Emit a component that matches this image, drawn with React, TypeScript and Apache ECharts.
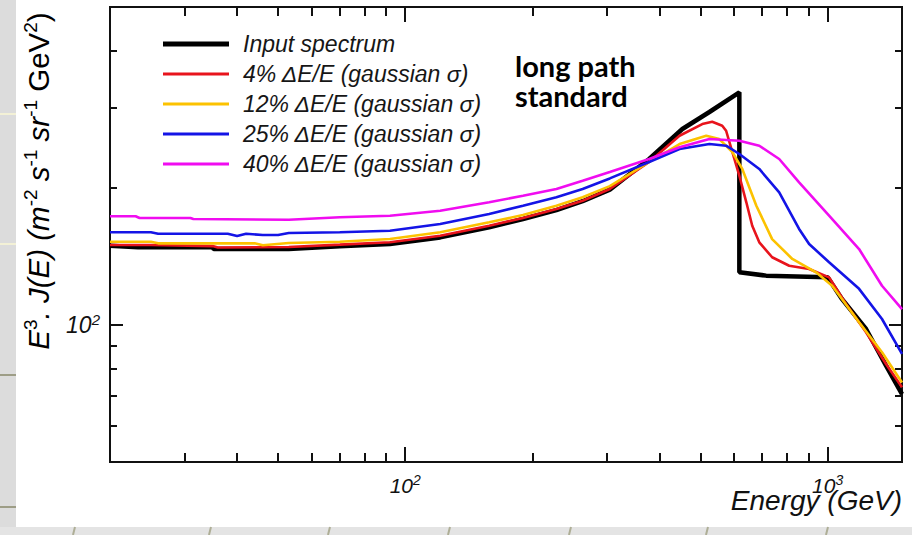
import { useEffect, useRef } from 'react';
import * as echarts from 'echarts';

const FONT = '"Liberation Sans", Arial, Helvetica, sans-serif';

// Axis ticks (GeV and E^3 J(E) units)
const energyMajorTicks = [100, 1000];
const energyMinorTicks = [30, 40, 50, 60, 70, 80, 90, 200, 300, 400, 500, 600, 700, 800, 900];
const fluxMajorTicks = [100];
const fluxMinorTicks = [60, 70, 80, 90, 200, 300, 400];
const energyRange = [20, 1500];
const fluxRange = [50, 500];

const seriesNames = [
  'Input spectrum',
  '4% ΔE/E (gaussian σ)',
  '12% ΔE/E (gaussian σ)',
  '25% ΔE/E (gaussian σ)',
  '40% ΔE/E (gaussian σ)',
];
const seriesColors = ['#000000', '#e8141c', '#fcc200', '#1414e6', '#f00cf0'];
const annotationLines = ['long path', 'standard'];

// [energy GeV, E^3 J(E)]
const inputSpectrum: [number, number][] = [
  [20, 149.4], [23.3, 148.2], [35, 148.2], [35.2, 146.9], [53, 146.9], [70, 148.9],
  [92, 150.7], [121, 155.8], [158, 163.9], [190, 171], [228, 178.9], [263, 187.1],
  [305, 198.4], [378, 231.7], [453, 269.7], [525, 293.9], [618, 324.7], [618, 130.6],
  [715, 128.4], [1000, 127.3], [1082, 114], [1233, 98], [1375, 81.4], [1500, 70.5],
];
const smeared4: [number, number][] = [
  [20, 149.9], [25, 149.9], [35, 149.1], [36, 148], [53, 148.4], [70, 150.2], [92, 152],
  [121, 157.1], [158, 165.3], [190, 171.9], [228, 179.9], [263, 187.6], [305, 199.1],
  [378, 228.2], [446, 260.6], [505, 276.5], [533, 279.8], [563, 274.2], [575, 267.3],
  [595, 240], [618, 212.9], [642, 186.1], [663, 165.3], [689, 152], [739, 140.9],
  [811, 135], [904, 132.8], [1008, 127.3], [1106, 111.2], [1233, 96.4], [1375, 82.1],
  [1500, 73],
];
const smeared12: [number, number][] = [
  [20, 152.4], [25, 152.4], [26, 151.2], [44, 151.2], [46, 149.7], [53, 151.4], [70, 152.4],
  [92, 154.5], [121, 159.9], [158, 168.2], [190, 174.5], [228, 182.9], [263, 190.9],
  [305, 202], [378, 228.2], [446, 249.9], [516, 260.6], [554, 256.3], [595, 240],
  [628, 220.3], [678, 182.9], [739, 154.5], [825, 139.7], [939, 130.6], [1025, 122],
  [1187, 101.4], [1345, 87.1], [1500, 74.8],
];
const smeared25: [number, number][] = [
  [20, 159.9], [25, 159.9], [26, 158.7], [38, 158.7], [40, 156.9], [42, 158.7], [46, 157.7],
  [50, 157.7], [53, 159.3], [70, 159.9], [92, 161.2], [121, 166.7], [158, 175.4],
  [190, 182.9], [228, 190.9], [263, 199.1], [305, 210], [378, 228.2], [446, 243.7],
  [525, 249.9], [575, 247.8], [618, 237.6], [689, 220.3], [768, 195.7], [856, 162.6],
  [904, 150.7], [1008, 137.4], [1187, 120.1], [1345, 103.1], [1500, 86.4],
];
const smeared40: [number, number][] = [
  [20, 173.4], [23, 173.4], [23.5, 171.9], [31, 171.9], [31.5, 171], [53, 170.4],
  [70, 172.5], [92, 173.9], [121, 178.3], [158, 186.1], [190, 192.4], [228, 199.1],
  [263, 207.6], [305, 217], [378, 231.7], [446, 245.8], [525, 256.3], [618, 254.2],
  [689, 247.8], [768, 231.7], [856, 205.9], [1008, 173.9], [1187, 146.9], [1345, 122],
  [1500, 108.4],
];
const seriesData = [inputSpectrum, smeared4, smeared12, smeared25, smeared40];

const bottomMarks = [73, 209, 328, 448, 569, 706, 826];
const stripLines = [
  { y: 114, color: '#f3f1d6' },
  { y: 244, color: '#f3f1d6' },
  { y: 375, color: '#9d9d86' },
  { y: 507, color: '#9d9d86' },
];

const xTickRich = {
  b: { fontFamily: FONT, fontStyle: 'italic', fontSize: 21, color: '#111', lineHeight: 24 },
  s: { fontFamily: FONT, fontStyle: 'italic', fontSize: 14, color: '#111', verticalAlign: 'top', lineHeight: 24 },
};
const yTickRich = {
  b: { fontFamily: FONT, fontStyle: 'italic', fontSize: 23, color: '#111', lineHeight: 26 },
  s: { fontFamily: FONT, fontStyle: 'italic', fontSize: 15, color: '#111', verticalAlign: 'top', lineHeight: 26 },
};
const powLabel = (v: number) => `{b|10}{s|${Math.round(Math.log10(v))}}`;

function xAxisDef(position: string, ticks: number[], len: number, labels: boolean) {
  return {
    type: 'log',
    logBase: 10,
    min: energyRange[0],
    max: energyRange[1],
    position,
    axisLine: { show: true, onZero: false, lineStyle: { color: '#111', width: 2 } },
    axisTick: { show: true, inside: true, length: len, customValues: ticks, lineStyle: { color: '#111', width: 2 } },
    axisLabel: labels
      ? { show: true, customValues: ticks, margin: 11, formatter: powLabel, rich: xTickRich }
      : { show: false },
    splitLine: { show: false },
    minorTick: { show: false },
  };
}
function yAxisDef(position: string, ticks: number[], len: number, labels: boolean) {
  return {
    type: 'log',
    logBase: 10,
    min: fluxRange[0],
    max: fluxRange[1],
    position,
    axisLine: { show: true, onZero: false, lineStyle: { color: '#111', width: 2 } },
    axisTick: { show: true, inside: true, length: len, customValues: ticks, lineStyle: { color: '#111', width: 2 } },
    axisLabel: labels
      ? { show: true, customValues: ticks, margin: 10, formatter: powLabel, rich: yTickRich }
      : { show: false },
    splitLine: { show: false },
    minorTick: { show: false },
  };
}

const legendText = {
  fontFamily: FONT,
  fontStyle: 'italic',
  fontSize: 23,
  color: '#161616',
  lineHeight: 30,
  padding: [0, 0, 0, 9],
};

export default function App() {
  const ref = useRef<HTMLDivElement>(null);
  useEffect(() => {
    if (!ref.current) return;
    const chart = echarts.init(ref.current, null, { renderer: 'svg' });
    const graphics: any[] = [
      { type: 'rect', shape: { x: 0, y: 0, width: 16, height: 535 }, style: { fill: '#dcdcdc' }, silent: true, z: -10 },
      { type: 'rect', shape: { x: 0, y: 527, width: 912, height: 8 }, style: { fill: '#e4e4e4' }, silent: true, z: -10 },
      ...stripLines.map((l) => ({
        type: 'line', shape: { x1: 0, y1: l.y, x2: 16, y2: l.y }, style: { stroke: l.color, lineWidth: 2 }, silent: true, z: -9,
      })),
      ...bottomMarks.map((x) => ({
        type: 'line', shape: { x1: x, y1: 535, x2: x + 2, y2: 527 }, style: { stroke: '#aeae96', lineWidth: 2 }, silent: true, z: -9,
      })),
      {
        type: 'text',
        x: 38,
        y: 181,
        rotation: Math.PI / 2,
        style: {
          text: '{i|E}{s|3}{i|. J(E) (m}{s|-2}{i| s}{s|-1}{i| sr}{s|-1}{n| GeV}{s|2}{n|)}',
          align: 'center',
          verticalAlign: 'middle',
          rich: {
            i: { fontFamily: FONT, fontStyle: 'italic', fontSize: 29.5, color: '#111', lineHeight: 34 },
            n: { fontFamily: FONT, fontSize: 29.5, color: '#111', lineHeight: 34 },
            s: { fontFamily: FONT, fontSize: 19, color: '#111', verticalAlign: 'top', lineHeight: 34 },
          },
        },
        silent: true,
      },
      {
        type: 'text',
        x: 902,
        y: 500,
        style: { text: 'Energy (GeV)', font: `italic 28px ${FONT}`, fill: '#111', align: 'right', verticalAlign: 'middle' },
        silent: true,
      },
      ...annotationLines.map((t, i) => ({
        type: 'text',
        x: 515,
        y: 65.5 + i * 29.5,
        style: {
          text: t,
          font: `bold 29px Lato, "Open Sans", sans-serif`,
          fill: '#000',
          align: 'left',
          verticalAlign: 'middle',
        },
        silent: true,
      })),
    ];

    const option: any = {
      animation: false,
      backgroundColor: '#ffffff',
      grid: { left: 110, right: 10, top: 7, bottom: 73, containLabel: false },
      xAxis: [
        xAxisDef('bottom', energyMajorTicks, 15, true),
        xAxisDef('bottom', energyMinorTicks, 9, false),
        xAxisDef('top', energyMajorTicks, 15, false),
        xAxisDef('top', energyMinorTicks, 9, false),
      ],
      yAxis: [
        yAxisDef('left', fluxMajorTicks, 13, true),
        yAxisDef('left', fluxMinorTicks, 7, false),
        yAxisDef('right', fluxMajorTicks, 13, false),
        yAxisDef('right', fluxMinorTicks, 7, false),
      ],
      legend: [
        {
          orient: 'vertical',
          left: 163,
          top: 29,
          padding: 0,
          itemGap: 0,
          itemWidth: 66,
          itemHeight: 5,
          selectedMode: false,
          itemStyle: { borderWidth: 0 },
          data: seriesNames.slice(0, 1).map((n) => ({ name: n, icon: 'rect' })),
          textStyle: legendText,
        },
        {
          orient: 'vertical',
          left: 163,
          top: 59,
          padding: 0,
          itemGap: 0,
          itemWidth: 66,
          itemHeight: 3,
          selectedMode: false,
          itemStyle: { borderWidth: 0 },
          data: seriesNames.slice(1).map((n) => ({ name: n, icon: 'rect' })),
          textStyle: legendText,
        },
      ],
      series: seriesData.map((d, i) => ({
        name: seriesNames[i],
        type: 'line',
        xAxisIndex: 0,
        yAxisIndex: 0,
        data: d,
        symbol: 'none',
        showSymbol: false,
        smooth: false,
        silent: true,
        color: seriesColors[i],
        itemStyle: { color: seriesColors[i], borderWidth: 0 },
        lineStyle: { color: seriesColors[i], width: i === 0 ? 4.5 : 2.6 },
        z: 2 + i,
      })),
      graphic: graphics,
    };
    chart.setOption(option);
    return () => chart.dispose();
  }, []);
  return (
    <div
      ref={ref}
      style={{ position: 'fixed', left: 0, top: 0, width: 912, height: 535, background: '#fff' }}
    />
  );
}
